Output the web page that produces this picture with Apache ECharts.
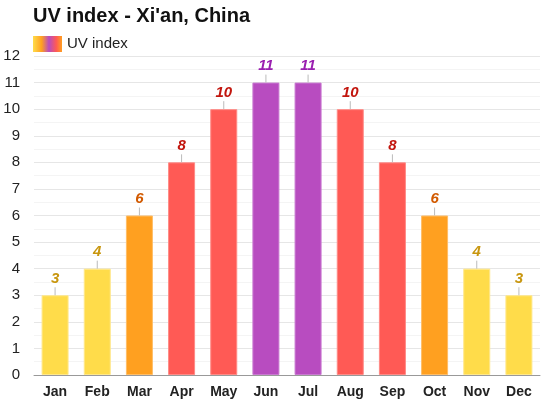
<!DOCTYPE html>
<html>
<head>
<meta charset="utf-8">
<script src="https://cdn.jsdelivr.net/npm/echarts@6/dist/echarts.min.js"></script>
<style>
  html, body { margin: 0; padding: 0; background: #fff; }
  #main { width: 550px; height: 404px; }
</style>
</head>
<body>
<div id="main"></div>
<script>
var months = ['Jan', 'Feb', 'Mar', 'Apr', 'May', 'Jun', 'Jul', 'Aug', 'Sep', 'Oct', 'Nov', 'Dec'];
var uvIndex = [3, 4, 6, 8, 10, 11, 11, 10, 8, 6, 4, 3];
var yTicks = [0, 1, 2, 3, 4, 5, 6, 7, 8, 9, 10, 11, 12];

// UV risk colours: bar fill, border, label text
function uvStyle(v) {
  if (v >= 11) return { fill: '#b84cc0', border: '#c978d0', text: '#9a1fb0' };
  if (v >= 8) return { fill: '#ff5a55', border: '#ff8a86', text: '#c2160e' };
  if (v >= 6) return { fill: '#ffa020', border: '#ffbd66', text: '#d25a00' };
  return { fill: '#ffdc4a', border: '#ffe88a', text: '#c8960e' };
}

var chart = echarts.init(document.getElementById('main'));

var option = {
  animation: false,
  title: {
    text: "UV index - Xi'an, China",
    left: 28,
    top: 1,
    textStyle: { fontFamily: 'Liberation Sans', fontSize: 20, fontWeight: 'bold', color: '#111' }
  },
  legend: {
    left: 28,
    top: 31,
    itemWidth: 29,
    itemHeight: 16,
    itemGap: 6,
    textStyle: { fontFamily: 'Liberation Sans', fontSize: 15, color: '#222' },
    data: [{
      name: 'UV index',
      icon: 'rect',
      itemStyle: {
        color: new echarts.graphic.LinearGradient(0, 0, 1, 0, [
          { offset: 0, color: '#ffdc4a' },
          { offset: 0.3, color: '#ffa020' },
          { offset: 0.55, color: '#b84cc0' },
          { offset: 0.8, color: '#ff5a55' },
          { offset: 1, color: '#ffa020' }
        ])
      }
    }]
  },
  grid: { left: 34, right: 10, top: 56, bottom: 29, containLabel: false },
  xAxis: {
    type: 'category',
    data: months,
    axisTick: { show: false },
    axisLine: { lineStyle: { color: '#999', width: 1 } },
    axisLabel: { fontFamily: 'Liberation Sans', fontSize: 14, fontWeight: 'bold', color: '#222', margin: 10 }
  },
  yAxis: {
    type: 'value',
    min: yTicks[0],
    max: yTicks[yTicks.length - 1],
    interval: 1,
    axisLabel: { fontFamily: 'Liberation Sans', fontSize: 15, color: '#222', margin: 14 },
    splitLine: { lineStyle: { color: '#e6e6e6', width: 1 } },
    minorTick: { show: false, splitNumber: 2 },
    minorSplitLine: { show: true, lineStyle: { color: '#f4f4f4', width: 1 } }
  },
  series: [
    {
      name: 'UV index',
      type: 'bar',
      barWidth: 27,
      data: uvIndex.map(function (v) {
        var s = uvStyle(v);
        return { value: v, itemStyle: { color: s.fill, borderColor: s.border, borderWidth: 1 } };
      }),
      z: 2
    },
    {
      name: 'labels',
      type: 'custom',
      silent: true,
      z: 3,
      data: uvIndex.map(function (v, i) { return [i, v]; }),
      renderItem: function (params, api) {
        var v = api.value(1);
        var p = api.coord([api.value(0), v]);
        var s = uvStyle(v);
        return {
          type: 'group',
          children: [
            {
              type: 'line',
              shape: { x1: p[0], y1: p[1], x2: p[0], y2: p[1] - 8 },
              style: { stroke: '#bbb', lineWidth: 1 }
            },
            {
              type: 'text',
              x: p[0],
              y: p[1] - 9,
              style: {
                text: String(v),
                fill: s.text,
                font: 'italic bold 15px "Liberation Sans"',
                align: 'center',
                verticalAlign: 'bottom'
              }
            }
          ]
        };
      }
    }
  ]
};

chart.setOption(option);
</script>
</body>
</html>
